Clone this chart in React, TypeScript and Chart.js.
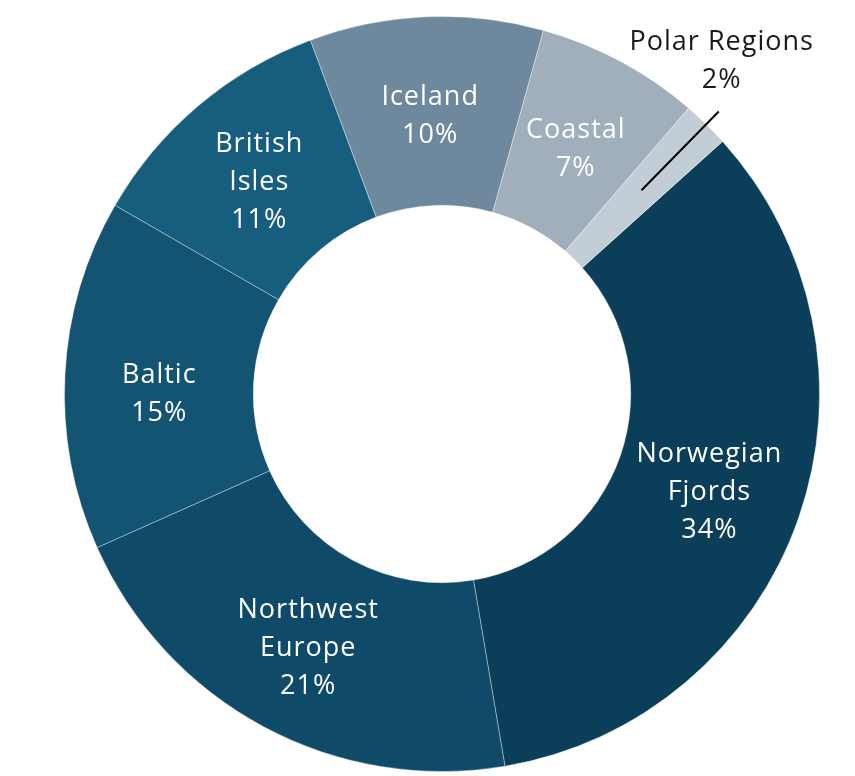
import React, { useEffect, useRef } from "react";
import { Chart, registerables } from "chart.js";

Chart.register(...registerables);

const categories = [
  "Norwegian Fjords",
  "Northwest Europe",
  "Baltic",
  "British Isles",
  "Iceland",
  "Coastal",
  "Polar Regions",
];
const labelLines = [
  ["Norwegian", "Fjords"],
  ["Northwest", "Europe"],
  ["Baltic"],
  ["British", "Isles"],
  ["Iceland"],
  ["Coastal"],
  ["Polar Regions"],
];
const shares = [34, 21, 15, 11, 10, 7, 2];
const sliceColors = [
  "#0b3f59",
  "#0f4b69",
  "#125472",
  "#175d7e",
  "#6e889d",
  "#a1afbc",
  "#c3cdd6",
];
const outsideIndex = 6;

const FONT = "500 27px 'Open Sans'";
const LINE_H = 38;
// small manual nudges of label blocks (px, downward), by slice index
const labelNudge: Record<number, number> = { 2: 10 };

const labelPlugin = {
  id: "sliceLabels",
  afterDatasetsDraw(chart: any) {
    const ctx = chart.ctx as CanvasRenderingContext2D;
    const meta = chart.getDatasetMeta(0);
    ctx.save();
    ctx.font = FONT;
    try {
      (ctx as any).letterSpacing = "1px";
    } catch (e) {}
    ctx.textAlign = "center";
    ctx.textBaseline = "middle";
    meta.data.forEach((arc: any, i: number) => {
      const p = arc.getProps(["x", "y", "startAngle", "endAngle", "innerRadius", "outerRadius"], true);
      const mid = (p.startAngle + p.endAngle) / 2;
      const lines = [...labelLines[i], shares[i] + "%"];
      if (i === outsideIndex) {
        const rMid = (p.innerRadius + p.outerRadius) / 2 + 2;
        const rOut = p.outerRadius + 18;
        const x1 = p.x + Math.cos(mid) * rMid;
        const y1 = p.y + Math.sin(mid) * rMid;
        const x2 = p.x + Math.cos(mid) * rOut;
        const y2 = p.y + Math.sin(mid) * rOut;
        ctx.strokeStyle = "#000000";
        ctx.lineWidth = 2;
        ctx.beginPath();
        ctx.moveTo(x1, y1);
        ctx.lineTo(x2, y2);
        ctx.stroke();
        ctx.fillStyle = "#1a1a1a";
        const n = lines.length;
        lines.forEach((t, k) => {
          ctx.fillText(t, x2 + 3, y2 - 31 - (n - 1 - k) * LINE_H);
        });
      } else {
        const rc = (p.innerRadius + p.outerRadius) / 2;
        const cx = p.x + Math.cos(mid) * rc;
        const cy = p.y + Math.sin(mid) * rc + 5 + (labelNudge[i] || 0);
        ctx.fillStyle = "#ffffff";
        const n = lines.length;
        lines.forEach((t, k) => {
          ctx.fillText(t, cx, cy + (k - (n - 1) / 2) * LINE_H);
        });
      }
    });
    ctx.restore();
  },
};

export default function App() {
  const ref = useRef<HTMLCanvasElement | null>(null);
  useEffect(() => {
    if (!ref.current) return;
    const chart = new Chart(ref.current, {
      type: "doughnut",
      data: {
        labels: categories,
        datasets: [
          {
            data: shares,
            backgroundColor: sliceColors,
            borderColor: "rgba(255,255,255,0.35)",
            borderWidth: 1,
          },
        ],
      },
      options: {
        responsive: false,
        animation: false,
        cutout: "50%",
        rotation: 48,
        layout: { padding: { left: 64, right: 35, top: 16, bottom: 4 } },
        plugins: {
          legend: { display: false },
          tooltip: { enabled: false },
        },
      },
      plugins: [labelPlugin],
    });
    return () => chart.destroy();
  }, []);
  return (
    <div style={{ position: "fixed", left: 0, top: 0, width: 855, height: 776, background: "#ffffff" }}>
      <canvas ref={ref} width={855} height={776} style={{ display: "block" }} />
    </div>
  );
}
